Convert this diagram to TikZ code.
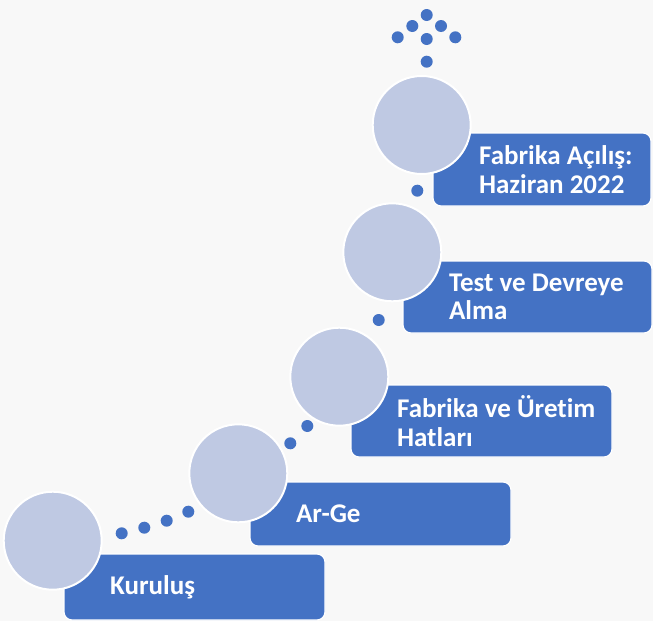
\documentclass[tikz,border=0pt]{standalone}
\usepackage{fontspec}
\setmainfont[Ligatures=NoCommon]{Carlito}
\usetikzlibrary{positioning}

\definecolor{stepblue}{RGB}{68,114,196}
\definecolor{steplight}{RGB}{191,201,227}
\definecolor{pagegrey}{RGB}{248,248,248}

\tikzset{
    stepbox/.style={draw=white, line width=1.2pt, fill=stepblue,
        rounded corners=8pt, inner sep=0pt},
    stepdisc/.style={circle, draw=white, line width=2pt, fill=steplight,
        minimum size=98pt, inner sep=0pt},
    steptext/.style={inner sep=0pt, text=white, align=left,
        font=\fontsize{27}{28.5}\selectfont\bfseries},
    stepdot/.style={fill=stepblue},
}

\begin{document}
\begin{tikzpicture}[x=1pt,y=-1pt]

% Page background.
\fill[pagegrey] (0,0) rectangle (653,621);
\useasboundingbox (0,0) rectangle (653,621);

% Draw each step box.
\foreach \n/\x/\y/\w/\h in {kurulus/194.5/587/261/66,
        arge/380.5/514/261/64,
        fabrika/481.5/421/261/72,
        test/527.5/297/249/72,
        acilis/542/169.5/218/73} {
    \node[stepbox, minimum width=\w pt, minimum height=\h pt] (\n) at (\x,\y) {};
}

% Step labels, left side of each box.
\node[steptext, right=46.5pt of kurulus.west] (kurulus text) {Kuruluş};
\node[steptext, right=46.5pt of arge.west] (arge text) {Ar-Ge};
\node[steptext, right=46.5pt of fabrika.west] (fabrika text) {Fabrika ve Üretim\\Hatları};
\node[steptext, right=46.5pt of test.west] (test text) {Test ve Devreye\\Alma};
\node[steptext, right=46.5pt of acilis.west] (acilis text) {Fabrika Açılış:\\Haziran 2022};

% Draw each circle over its box.
\foreach \n/\x/\y in {kurulus/52.7/540.7,
        arge/238.3/473.3,
        fabrika/339.3/376.7,
        test/392.3/252.3,
        acilis/421.7/125} {
    \node[stepdisc] (\n disc) at (\x,\y) {};
}

% Dots between the steps and the top cluster.
\foreach \x/\y in {121.7/533.3, 144.3/527.7, 166.7/520.7, 188.3/511.7,
        290.3/443.3, 307.3/426,
        378.7/320,
        417.3/190.7,
        426.7/61.7, 397.7/37.3, 426.7/39, 455.3/37.3, 412.3/26, 441/26, 426.7/15} {
    \fill[stepdot] (\x,\y) circle (6pt);
}

\end{tikzpicture}
\end{document}
